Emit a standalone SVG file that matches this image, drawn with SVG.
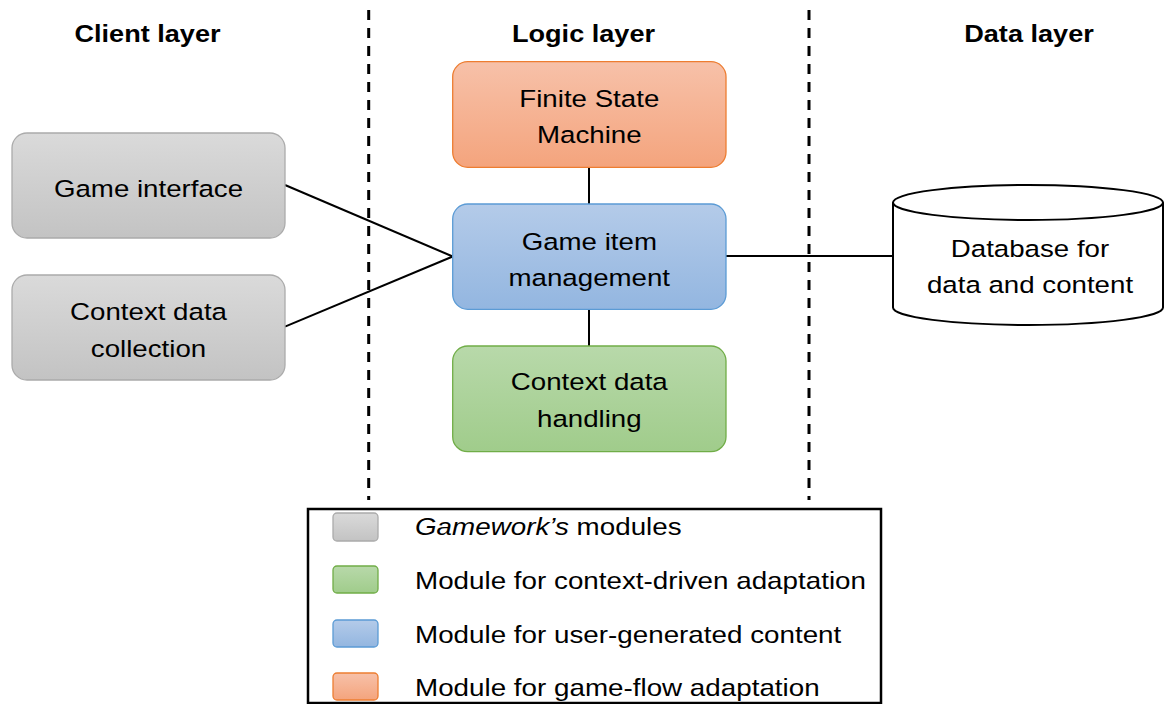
<svg xmlns="http://www.w3.org/2000/svg" width="1164" height="704" viewBox="0 0 1164 704">
<style>
  text { font-family: "Liberation Sans", Arial, sans-serif; fill: #000; text-anchor: middle; }
  .t { font-size: 24.5px; }
  .h { font-size: 24px; font-weight: bold; }
  .l { font-size: 24.6px; text-anchor: start; }
  .conn { stroke: #000; stroke-width: 2; fill: none; }
  .dash { stroke: #000; stroke-width: 3; stroke-dasharray: 10 8; fill: none; }
  .gray { fill: url(#gGray); stroke: #ababab; stroke-width: 1.3; }
  .orange { fill: url(#gOrange); stroke: #ed7d31; stroke-width: 1.3; }
  .blue { fill: url(#gBlue); stroke: #5b9bd5; stroke-width: 1.3; }
  .green { fill: url(#gGreen); stroke: #70ad47; stroke-width: 1.3; }
</style>
<defs>
  <linearGradient id="gGray" x1="0" y1="0" x2="0" y2="1"><stop offset="0" stop-color="#dadada"/><stop offset="1" stop-color="#c3c3c3"/></linearGradient>
  <linearGradient id="gOrange" x1="0" y1="0" x2="0" y2="1"><stop offset="0" stop-color="#f7c1a9"/><stop offset="1" stop-color="#f4a47d"/></linearGradient>
  <linearGradient id="gBlue" x1="0" y1="0" x2="0" y2="1"><stop offset="0" stop-color="#b4cbe9"/><stop offset="1" stop-color="#93b6e0"/></linearGradient>
  <linearGradient id="gGreen" x1="0" y1="0" x2="0" y2="1"><stop offset="0" stop-color="#b8d9aa"/><stop offset="1" stop-color="#a0cc8b"/></linearGradient>
</defs>
<rect width="1164" height="704" fill="#fff"/>

<g id="separators">
  <line class="dash" x1="368.7" y1="10" x2="368.7" y2="500"/>
  <line class="dash" x1="809" y1="10" x2="809" y2="500"/>
</g>

<g id="headings">
  <text class="h" transform="translate(147.5,42) scale(1.13,1)">Client layer</text>
  <text class="h" transform="translate(583.5,42) scale(1.13,1)">Logic layer</text>
  <text class="h" transform="translate(1029,42) scale(1.13,1)">Data layer</text>
</g>

<g id="connectors">
  <line class="conn" x1="285" y1="185" x2="452.7" y2="256.5"/>
  <line class="conn" x1="285" y1="326.7" x2="452.7" y2="256.5"/>
  <line class="conn" x1="589" y1="167.3" x2="589" y2="204"/>
  <line class="conn" x1="589" y1="309.3" x2="589" y2="346"/>
  <line class="conn" x1="726" y1="256" x2="893" y2="256"/>
</g>

<g id="game-interface">
  <rect class="gray" x="12" y="133" width="273" height="105" rx="15"/>
  <text class="t" transform="translate(148.5,197) scale(1.13,1)">Game interface</text>
</g>

<g id="context-data-collection">
  <rect class="gray" x="12" y="275" width="273" height="105" rx="15"/>
  <text class="t" transform="translate(148.5,320) scale(1.13,1)">Context data</text>
  <text class="t" transform="translate(148.5,356.7) scale(1.13,1)">collection</text>
</g>

<g id="finite-state-machine">
  <rect class="orange" x="452.7" y="61.7" width="273.3" height="105.6" rx="15"/>
  <text class="t" transform="translate(589.3,106.7) scale(1.13,1)">Finite State</text>
  <text class="t" transform="translate(589.3,143.3) scale(1.13,1)">Machine</text>
</g>

<g id="game-item-management">
  <rect class="blue" x="452.7" y="204" width="273.3" height="105.3" rx="15"/>
  <text class="t" transform="translate(589.3,250) scale(1.13,1)">Game item</text>
  <text class="t" transform="translate(589.3,285.5) scale(1.13,1)">management</text>
</g>

<g id="context-data-handling">
  <rect class="green" x="452.7" y="346" width="273.3" height="105.7" rx="15"/>
  <text class="t" transform="translate(589.3,390) scale(1.13,1)">Context data</text>
  <text class="t" transform="translate(589.3,426.7) scale(1.13,1)">handling</text>
</g>

<g id="database">
  <path d="M893,202.5 L893,307.5 A135,17.5 0 0 0 1163,307.5 L1163,202.5" fill="#fff" stroke="#000" stroke-width="2"/>
  <ellipse cx="1028" cy="202.5" rx="135" ry="17.5" fill="#fff" stroke="#000" stroke-width="2"/>
  <text class="t" transform="translate(1030,257) scale(1.13,1)">Database for</text>
  <text class="t" transform="translate(1030,293.3) scale(1.13,1)">data and content</text>
</g>

<g id="legend">
  <rect x="308" y="509" width="573" height="194" fill="#fff" stroke="#000" stroke-width="2.5"/>
  <rect class="gray" x="333" y="513" width="45" height="28" rx="4"/>
  <rect class="green" x="333" y="566" width="45" height="27" rx="4"/>
  <rect class="blue" x="333" y="620" width="45" height="27" rx="4"/>
  <rect class="orange" x="333" y="673" width="45" height="27" rx="4"/>
  <text class="l" transform="translate(415,535) scale(1.13,1)"><tspan font-style="italic">Gamework’s</tspan> modules</text>
  <text class="l" transform="translate(415,589) scale(1.13,1)">Module for context-driven adaptation</text>
  <text class="l" transform="translate(415,643) scale(1.13,1)">Module for user-generated content</text>
  <text class="l" transform="translate(415,696) scale(1.13,1)">Module for game-flow adaptation</text>
</g>
</svg>
